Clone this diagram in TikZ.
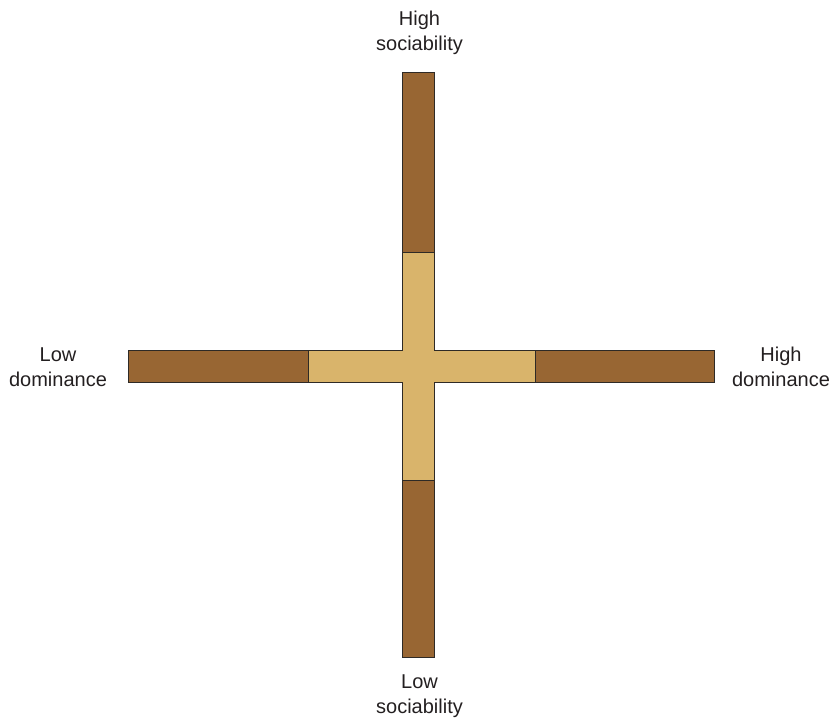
\documentclass[tikz,border=0pt]{standalone}
\usepackage{fontspec}
\setmainfont{Liberation Sans}
\begin{document}
\begin{tikzpicture}[x=1pt,y=-1pt,
  dark/.style={fill=darkbrown,draw=edge,line width=1pt},
  light/.style={fill=tan,draw=edge,line width=1pt},
  lab/.style={align=center,font=\fontsize{20}{25}\selectfont,text=labeltext,inner sep=0pt}]
\definecolor{darkbrown}{HTML}{986633}
\definecolor{tan}{HTML}{D9B46B}
\definecolor{edge}{HTML}{2E2A26}
\definecolor{labeltext}{HTML}{231F20}
\useasboundingbox (0,0) rectangle (832,719);
% light cross
\path[light] (402.5,253) -- (434.5,253) -- (434.5,350) -- (535,350) -- (535,382)
  -- (434.5,382) -- (434.5,480) -- (402.5,480) -- (402.5,382) -- (308,382)
  -- (308,350) -- (402.5,350) -- cycle;
% dark arms
\path[dark] (402.5,73) rectangle (434.5,253);
\path[dark] (402.5,480) rectangle (434.5,657);
\path[dark] (128,350) rectangle (308,382);
\path[dark] (535,350) rectangle (714,382);
% labels
\node[lab] (hs) at (419.5,33) {High\\sociability};
\node[lab] (ls) at (419.5,696) {Low\\sociability};
\node[lab] (ld) at (58,367) {Low\\dominance};
\node[lab] (hd) at (781,367) {High\\dominance};
\end{tikzpicture}
\end{document}
